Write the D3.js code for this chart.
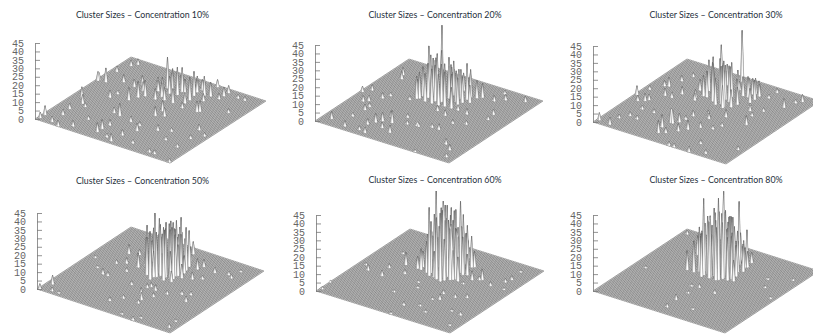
<!DOCTYPE html>
<html><head><meta charset="utf-8">
<script src="https://cdn.jsdelivr.net/npm/d3@7"></script>
<style>html,body{margin:0;padding:0;background:#fff;overflow:hidden}svg{display:block}</style>
</head><body><div id="chart"></div>
<script>
const gridSize = 60;
const meshSize = 80;
const zTicks = [0,5,10,15,20,25,30,35,40,45];
const concentrations = ["10%","20%","30%","50%","60%","80%"];

// [row, column, cluster size]; every other cell is 0
const spikes10 = [[1,2,3],[1,5,5],[6,2,3],[6,9,3],[5,14,3],[10,1,3],[14,4,3],[4,24,6],[7,20,5],[9,19,2],[16,11,2],[1,38,5],[1,39,4],[4,39,8],[9,43,4],[2,48,3],[4,55,3],[5,57,3],[20,21,3],[23,20,7],[13,34,2],[12,30,4],[19,32,7],[20,36,9],[22,38,9],[16,45,5],[34,28,5],[34,32,6],[23,44,6],[26,43,10],[25,48,18],[31,43,17],[31,46,16],[31,49,14],[37,45,13],[36,49,14],[34,54,7],[39,51,11],[41,52,8],[39,59,4],[45,55,5],[45,58,4],[50,56,2],[53,56,2],[45,52,3],[41,47,4],[24,5,5],[24,8,5],[25,12,3],[29,4,2],[32,2,4],[33,8,3],[35,14,4],[34,18,2],[29,19,3],[41,19,3],[37,29,5],[59,1,2],[49,3,2],[51,3,2],[55,12,2],[44,39,6],[45,40,6],[38,38,3],[53,28,3],[54,45,2],[58,25,2],[55,20,2],[48,14,2],[46,21,2],[40,5,2],[28,45,10],[29,50,8],[33,47,9],[35,52,7],[27,41,8],[24,52,6],[21,47,5],[29,40,7],[33,40,8],[37,42,6],[36,54,6],[19,41,5],[14,42,4],[26,38,6]];
const spikes20 = [[21,43,27],[25,46,39],[26,40,24],[28,41,28],[30,43,24],[30,46,20],[34,45,17],[36,46,21],[36,48,16],[38,49,10],[40,50,8],[20,36,13],[21,37,15],[24,36,16],[27,36,20],[27,38,21],[32,37,20],[32,41,20],[36,40,16],[36,43,15],[21,39,17],[20,45,20],[22,46,17],[26,48,14],[27,50,11],[31,51,10],[32,53,9],[4,5,4],[9,11,2],[11,3,3],[1,29,3],[3,32,3],[5,23,3],[7,25,3],[10,18,3],[10,21,2],[10,29,3],[11,32,2],[19,12,5],[20,14,5],[23,10,3],[21,19,3],[28,8,4],[24,15,7],[17,4,2],[17,9,3],[20,3,3],[7,46,4],[5,49,4],[19,34,2],[26,22,2],[29,17,2],[33,18,2],[34,18,2],[38,20,2],[41,20,3],[50,12,3],[54,9,3],[56,4,2],[43,27,2],[47,29,2],[52,37,2],[51,41,3],[48,53,3],[45,57,2],[45,50,3],[55,56,3],[32,32,3],[38,37,3],[37,31,3],[43,36,3],[44,1,1],[23,39,20],[24,41,22],[25,43,24],[27,44,18],[29,39,22],[30,36,18],[34,39,18],[34,42,18],[28,47,16],[31,48,14],[33,50,10],[23,48,12],[18,40,8],[38,44,10],[35,37,12]];
const spikes30 = [[27,57,30],[20,53,21],[21,44,18],[24,43,22],[29,40,25],[33,37,27],[32,41,21],[31,45,20],[33,46,16],[34,48,11],[36,48,12],[36,51,9],[37,52,9],[37,54,6],[33,36,13],[22,40,12],[18,43,6],[20,37,5],[35,38,10],[38,31,4],[41,42,2],[21,47,9],[30,51,5],[24,52,12],[39,48,11],[1,3,4],[6,2,4],[6,8,2],[8,12,2],[1,27,5],[4,23,3],[6,25,4],[7,26,3],[9,19,2],[12,11,2],[14,19,2],[2,33,2],[5,38,3],[10,32,4],[13,32,3],[7,39,5],[14,37,4],[8,45,3],[10,50,2],[25,7,7],[23,11,7],[27,8,3],[24,16,8],[25,16,8],[26,18,5],[27,21,2],[30,12,4],[32,15,5],[28,25,3],[35,19,3],[34,26,3],[40,20,2],[41,24,2],[48,30,5],[46,37,2],[43,40,3],[52,49,5],[43,52,2],[43,57,2],[55,56,4],[53,54,2],[43,1,3],[36,1,2],[34,1,2],[43,8,2],[49,3,2],[57,12,2],[47,42,2],[39,51,7],[21,35,4],[33,27,4],[25,41,20],[27,38,22],[27,45,18],[28,49,14],[30,42,20],[31,38,22],[35,42,14],[34,52,8],[25,48,14],[23,40,15],[26,50,12],[29,37,15],[36,41,10],[39,45,8]];
const spikes50 = [[25,35,27],[29,31,28],[28,36,35],[29,37,32],[34,33,31],[32,37,31],[32,40,30],[36,36,33],[34,41,30],[34,44,30],[36,44,25],[35,47,21],[31,56,7],[20,46,17],[21,50,11],[23,53,14],[29,47,14],[26,45,12],[26,54,15],[25,41,16],[22,39,16],[35,35,16],[37,34,6],[33,51,8],[29,33,15],[1,1,3],[2,7,5],[5,2,2],[8,2,1],[11,43,5],[15,36,3],[15,44,3],[20,36,8],[19,31,2],[12,34,2],[13,24,3],[15,24,2],[8,27,1],[3,33,1],[26,23,2],[34,19,4],[36,16,4],[32,25,2],[33,26,2],[36,25,3],[41,25,2],[38,20,2],[37,13,2],[46,28,2],[49,29,2],[50,24,3],[27,8,2],[30,13,2],[37,2,1],[43,1,2],[44,4,1],[57,4,2],[56,9,1],[42,40,4],[39,47,6],[40,50,4],[45,42,2],[46,49,3],[51,50,2],[53,49,2],[53,55,1],[26,33,22],[27,37,24],[27,40,20],[28,43,22],[30,34,26],[30,39,24],[30,42,26],[31,35,30],[31,44,22],[33,35,28],[33,38,26],[33,42,24],[33,46,20],[35,38,24],[35,42,22],[24,38,16],[24,44,14],[27,47,16],[30,48,16],[31,51,12],[28,50,12],[36,39,18],[37,42,10],[38,38,8],[22,43,12],[25,50,10]];
const spikes60 = [[27,38,47],[27,34,40],[32,35,45],[30,40,39],[34,38,40],[35,39,39],[35,42,42],[36,43,34],[37,44,27],[36,48,18],[37,49,9],[23,38,20],[21,38,9],[20,36,7],[33,32,40],[33,35,34],[37,37,30],[36,36,17],[37,38,24],[25,35,18],[29,34,15],[28,45,26],[24,45,20],[28,48,24],[31,50,20],[20,45,16],[22,50,12],[26,53,16],[31,53,10],[0,9,1],[1,3,1],[15,36,7],[19,30,2],[6,25,3],[3,28,1],[13,24,3],[11,31,2],[9,43,1],[29,23,1],[27,27,1],[24,16,1],[33,9,2],[33,1,1],[38,12,1],[43,9,1],[50,15,1],[55,14,2],[56,5,1],[39,19,1],[41,20,3],[40,25,2],[45,25,2],[49,27,2],[42,40,5],[44,41,2],[45,42,6],[41,35,1],[50,40,2],[56,40,1],[53,45,2],[54,48,2],[53,55,1],[26,36,30],[28,36,35],[29,38,38],[29,41,30],[31,33,36],[31,37,38],[31,42,32],[33,37,42],[33,41,36],[35,35,30],[35,36,32],[36,38,28],[37,41,22],[26,41,24],[24,39,22],[25,47,20],[30,46,28],[33,46,24],[33,49,18],[27,50,16],[30,53,14],[23,43,16],[22,36,12],[38,36,14],[38,42,12],[34,34,24]];
const spikes80 = [[26,34,45],[33,34,48],[34,36,51],[32,48,37],[35,40,34],[35,49,21],[29,34,36],[23,35,26],[22,34,18],[19,34,11],[26,32,25],[29,33,33],[32,33,35],[34,35,33],[35,37,33],[37,37,25],[36,35,25],[34,45,16],[35,47,11],[36,48,9],[35,52,6],[26,38,21],[27,44,30],[24,45,20],[27,48,19],[18,44,16],[19,48,20],[29,50,11],[15,46,11],[27,53,7],[2,57,2],[28,24,1],[31,25,2],[30,19,1],[38,24,2],[29,12,3],[30,5,2],[58,32,1],[51,38,1],[5,26,1],[39,9,1],[56,49,1],[48,44,1],[25,37,28],[27,35,34],[28,36,32],[28,39,34],[30,35,40],[30,38,36],[30,41,34],[31,44,30],[33,38,38],[33,42,32],[29,46,28],[32,45,24],[25,41,24],[22,38,18],[24,36,22],[27,40,24],[36,38,26],[37,40,18],[37,44,16],[34,49,14],[31,51,16],[25,50,16],[22,46,14],[20,41,12],[38,36,12],[35,43,24]];

const seriesList = [spikes10,spikes20,spikes30,spikes50,spikes60,spikes80];

// panel corners: L left, F front, B back; title centre
const layout = [
  {L:[35,119], F:[170,163], B:[131,57],  tx:142.5, ty:15},
  {L:[315,121],F:[449,163], B:[409,59],  tx:435,   ty:15},
  {L:[593,122],F:[726,164], B:[687,59],  tx:716,   ty:15},
  {L:[37,289], F:[170,333], B:[131,227], tx:142.5, ty:180.5},
  {L:[316,291],F:[450,333], B:[410,229], tx:435,   ty:180},
  {L:[593,291],F:[725,333], B:[687,229], tx:716,   ty:180}
];

const svg = d3.select("#chart").append("svg").attr("width",813).attr("height",335);
const toMesh = d3.scaleLinear().domain([0,gridSize]).range([0,meshSize]);
const lineColor = "#4a4a4a", lineWidth = 0.42, spikeColor = "#666", spikeWidth = 0.32;

layout.forEach((p,k)=>{
  const g = svg.append("g");
  const height = new Map();
  seriesList[k].forEach(d=>{
    const key = Math.round(toMesh(d[0]))+","+Math.round(toMesh(d[1]));
    height.set(key, Math.max(height.get(key)||0, d[2]));
  });
  const z = (i,j)=>height.get(i+","+j)||0;
  const xI = d3.scaleLinear().domain([0,meshSize]).range([0,p.F[0]-p.L[0]]);
  const yI = d3.scaleLinear().domain([0,meshSize]).range([0,p.F[1]-p.L[1]]);
  const xJ = d3.scaleLinear().domain([0,meshSize]).range([0,p.B[0]-p.L[0]]);
  const yJ = d3.scaleLinear().domain([0,meshSize]).range([0,p.B[1]-p.L[1]]);
  const zScale = d3.scaleLinear().domain([0,45]).range([p.L[1],p.L[1]-76]);
  const flat = (i,j)=>[p.L[0]+xI(i)+xJ(j), p.L[1]+yI(i)+yJ(j)];
  const pt = (i,j)=>{const f=flat(i,j); return [f[0], f[1]+zScale(z(i,j))-p.L[1]];};
  const raised = (i,j)=>z(i,j)||z(i+1,j)||z(i+1,j+1)||z(i,j+1);

  // flat ground as one mesh, with the raised cells painted back to front on top
  const ground = d3.path(), cells = [];
  for(let j=meshSize-1;j>=0;j--) for(let i=0;i<meshSize;i++){
    if(raised(i,j)) cells.push([i,j]);
  }
  for(let n=0;n<=meshSize;n++){
    let s=flat(n,0), e=flat(n,meshSize); ground.moveTo(s[0],s[1]); ground.lineTo(e[0],e[1]);
    s=flat(0,n); e=flat(meshSize,n); ground.moveTo(s[0],s[1]); ground.lineTo(e[0],e[1]);
  }
  const c0=flat(0,0),c1=flat(meshSize,0),c2=flat(meshSize,meshSize),c3=flat(0,meshSize);
  g.append("path").attr("d",d3.line()([c0,c1,c2,c3])+"Z").attr("fill","#fff");
  g.append("path").attr("d",ground.toString()).attr("fill","none")
    .attr("stroke",lineColor).attr("stroke-width",lineWidth);

  g.append("g").selectAll("path").data(cells).join("path")
    .attr("d",([i,j])=>d3.line()([pt(i,j),pt(i+1,j),pt(i+1,j+1),pt(i,j+1)])+"Z")
    .attr("fill","#fff").attr("stroke",spikeColor).attr("stroke-width",spikeWidth);

  const axis = d3.axisLeft(zScale).tickValues(zTicks).tickSizeInner(-5).tickSizeOuter(0).tickPadding(11);
  const ag = g.append("g").attr("transform",`translate(${p.L[0]},0)`).call(axis);
  ag.selectAll("path,line").attr("stroke","#777").attr("stroke-width",0.8);
  ag.selectAll("text").attr("font-family","'Liberation Mono',monospace").attr("font-size",10).attr("fill","#666");

  g.append("text").attr("x",p.tx).attr("y",p.ty).attr("dy","0.35em").attr("text-anchor","middle")
    .attr("font-family","Lato,'Open Sans',sans-serif").attr("font-size",8.8).attr("fill","#26303c")
    .text("Cluster Sizes \u2013 Concentration "+concentrations[k]);
});
</script></body></html>
